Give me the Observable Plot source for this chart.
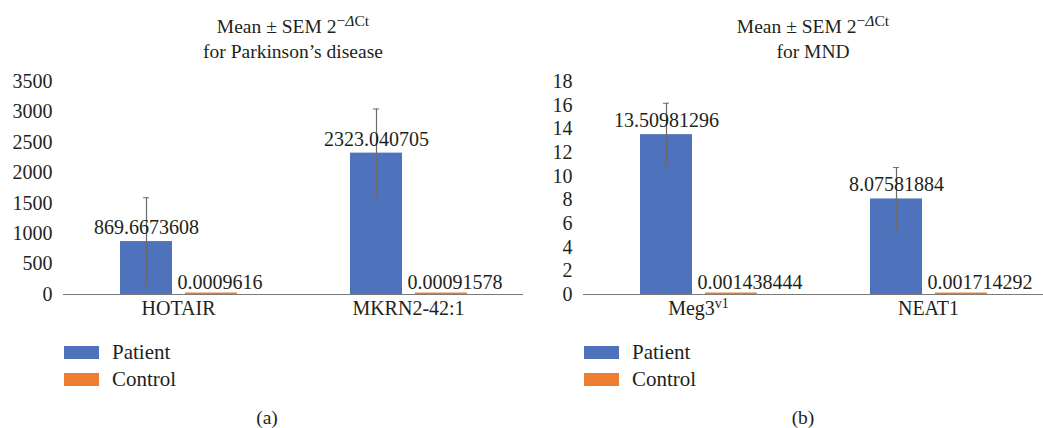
<!DOCTYPE html>
<html>
<head>
<meta charset="utf-8">
<script src="https://cdn.jsdelivr.net/npm/d3@7"></script>
<script src="https://cdn.jsdelivr.net/npm/@observablehq/plot@0.6"></script>
<style>
  html, body { margin: 0; padding: 0; background: #fff; }
  body { width: 1043px; height: 428px; position: relative; overflow: hidden;
         font-family: 'Liberation Serif', serif; color: #231f20; }
  .panel { position: absolute; top: 0; width: 523px; height: 428px; font-family: 'Liberation Serif', serif; }
  .title { position: absolute; top: 14px; left: 63px; right: 0; text-align: center;
           font-family: 'Liberation Serif', serif; font-size: 19.5px; line-height: 25px; }
  .title sup { font-size: 0.8em; position: relative; top: -0.45em; vertical-align: baseline; line-height: 0; }
  .chart { position: absolute; top: 66px; left: 0; }
  .legend { position: absolute; left: 64px; font-family: 'Liberation Serif', serif; font-size: 21px; }
  .legend .item { position: absolute; left: 0; white-space: nowrap; height: 13px; }
  .legend .sw { position: absolute; left: 0; top: 0; width: 35px; height: 13px; }
  .legend .lb { position: absolute; left: 48px; top: -6px; line-height: 24px; }
  .caption { position: absolute; top: 406px; font-family: 'Liberation Serif', serif; font-size: 19.5px; line-height: 24px; transform: translateX(-50%); }
</style>
</head>
<body>
<div id="root"></div>
<script>
// ---- data ----
const groups = ["Patient", "Control"];
const colors = ["#4f72bc", "#ed7d31"];

const genesA = ["HOTAIR", "MKRN2-42:1"];
const patientA = [869.6673608, 2323.040705];
const controlA = [0.0009616, 0.00091578];
const semA = [720, 725];
const yTicksA = [0, 500, 1000, 1500, 2000, 2500, 3000, 3500];

const genesB = ["Meg3v1", "NEAT1"];
const patientB = [13.50981296, 8.07581884];
const controlB = [0.001438444, 0.001714292];
const semB = [2.65, 2.65];
const yTicksB = [0, 2, 4, 6, 8, 10, 12, 14, 16, 18];

function makeChart(genes, patient, control, sem, ticks) {
  const patients = genes.map((g, i) => ({gene: g, group: "Patient", value: patient[i], sem: sem[i]}));
  const controls = genes.map((g, i) => ({gene: g, group: "Control", value: control[i], sem: 0}));
  const rows = patients.concat(controls);
  const svg = Plot.plot({
    width: 523, height: 260,
    marginLeft: 63, marginRight: 0, marginTop: 15, marginBottom: 32,
    style: {fontFamily: "'Liberation Serif', serif", fontSize: "20px", color: "#231f20", background: "transparent", overflow: "visible"},
    fx: {domain: genes, padding: 0, label: null, tickSize: 0, tickPadding: 6, axis: "bottom"},
    x: {domain: groups, paddingInner: 0.2, paddingOuter: 0.869, axis: null},
    y: {domain: [0, ticks[ticks.length - 1]], ticks: ticks, tickSize: 0, tickPadding: 11, label: null, tickFormat: d => String(d)},
    color: {domain: groups, range: colors},
    marks: [
      Plot.barY(rows, {fx: "gene", x: "group", y: "value", fill: "group"}),
      Plot.tickY(controls, {fx: "gene", x: "group", y: "value", stroke: colors[1], strokeWidth: 2, dy: -1}),
      Plot.ruleY([0], {stroke: "#7a7a7a", strokeWidth: 1.2}),
      Plot.ruleX(patients, {fx: "gene", x: "group", y1: d => d.value - d.sem, y2: d => d.value + d.sem, stroke: "#6b6b6b", strokeWidth: 1.2}),
      Plot.tickY(patients, {fx: "gene", x: "group", y: d => d.value + d.sem, stroke: "#6b6b6b", insetLeft: 23, insetRight: 23}),
      Plot.tickY(patients, {fx: "gene", x: "group", y: d => d.value - d.sem, stroke: "#6b6b6b", insetLeft: 23, insetRight: 23}),
      Plot.text(patients, {fx: "gene", x: "group", y: "value", text: d => String(d.value), dy: -14, fill: "#231f20"}),
      Plot.text(controls, {fx: "gene", x: "group", y: "value", text: d => String(d.value), textAnchor: "start", dx: -34, dy: -12, fill: "#231f20"})
    ]
  });
  svg.querySelectorAll("text").forEach(t => {
    t.setAttribute("font-family", "Liberation Serif");
    if (t.textContent === "Meg3v1") {
      t.textContent = "Meg3";
      const ts = document.createElementNS("http://www.w3.org/2000/svg", "tspan");
      ts.setAttribute("dy", "-0.45em");
      ts.setAttribute("font-size", "14px");
      ts.textContent = "v1";
      t.appendChild(ts);
    }
  });
  return svg;
}

function makePanel(left, titleLine2, chart, captionText, captionX) {
  const p = document.createElement("div");
  p.className = "panel";
  p.style.left = left + "px";
  p.innerHTML = `<div class="title">Mean ± SEM 2<sup>−<i>Δ</i>Ct</sup><br>${titleLine2}</div>`;
  const c = document.createElement("div");
  c.className = "chart";
  c.appendChild(chart);
  p.appendChild(c);
  const lg = document.createElement("div");
  lg.className = "legend";
  groups.forEach((g, i) => {
    const it = document.createElement("div");
    it.className = "item";
    it.style.top = (346 + i * 27) + "px";
    it.innerHTML = `<div class="sw" style="background:${colors[i]}"></div><div class="lb">${g}</div>`;
    lg.appendChild(it);
  });
  p.appendChild(lg);
  const cap = document.createElement("div");
  cap.className = "caption";
  cap.style.left = captionX + "px";
  cap.textContent = captionText;
  p.appendChild(cap);
  return p;
}

const root = document.getElementById("root");
root.appendChild(makePanel(0, "for Parkinson’s disease", makeChart(genesA, patientA, controlA, semA, yTicksA), "(a)", 267));
root.appendChild(makePanel(520, "for MND", makeChart(genesB, patientB, controlB, semB, yTicksB), "(b)", 283));
</script>
</body>
</html>
